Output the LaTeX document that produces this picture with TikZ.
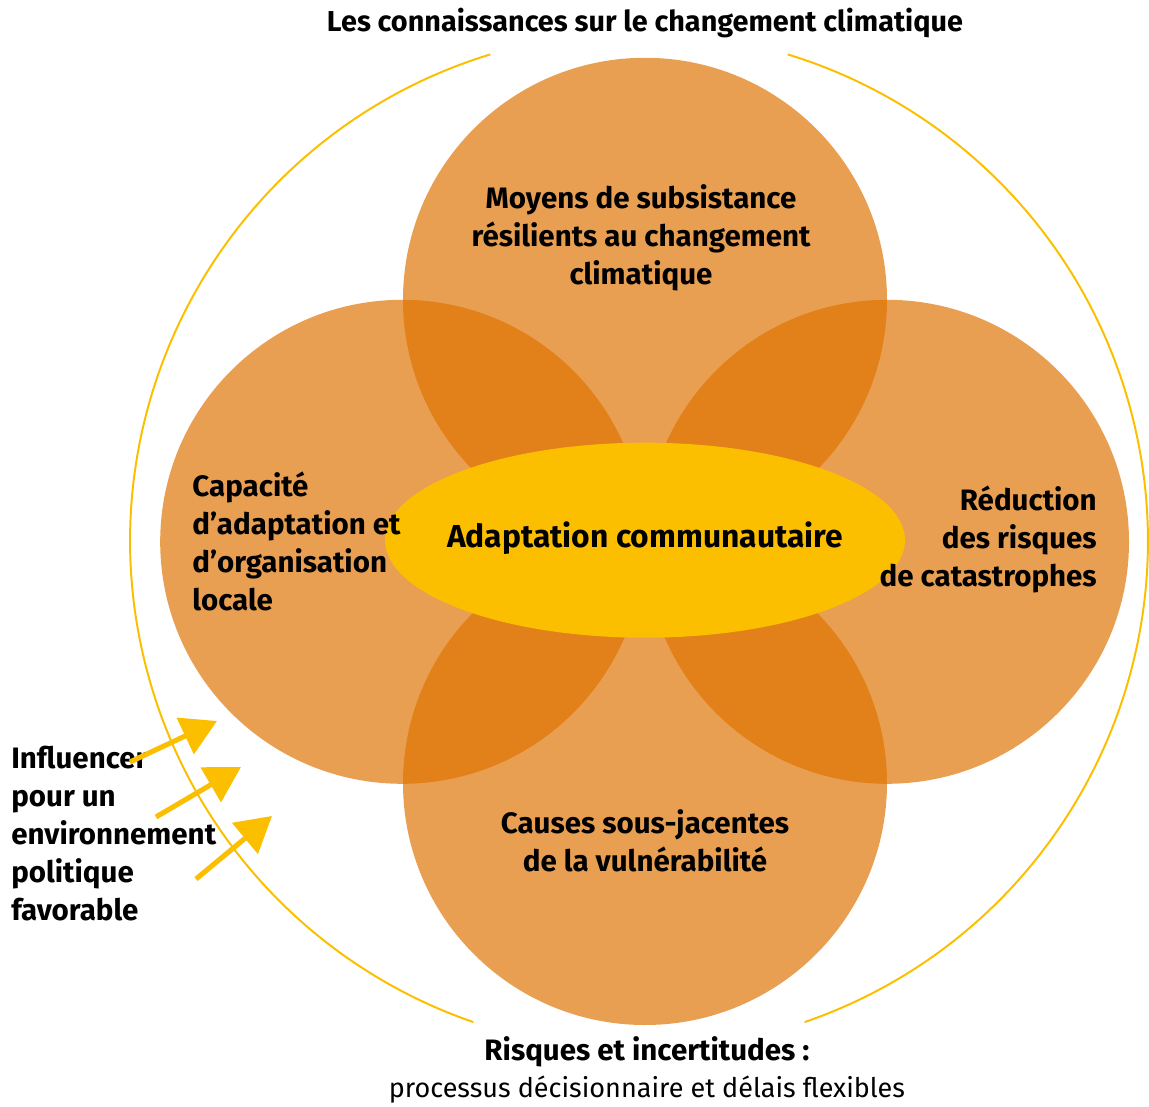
\documentclass[tikz,border=0pt]{standalone}
\usepackage{fontspec}
\setmainfont{Fira Sans}
\usetikzlibrary{calc, shapes.geometric, arrows.meta}

\definecolor{petalorange}{RGB}{223,114,0}
\definecolor{coreyellow}{RGB}{251,191,0}

\begin{document}
\begin{tikzpicture}[font=\fontsize{21}{27}\selectfont\bfseries]
    \tikzstyle{petal} = [circle, minimum size=12.1cm, inner sep=0pt, fill=petalorange, fill opacity=.68]
    \tikzstyle{core} = [ellipse, minimum width=13cm, minimum height=4.875cm, inner sep=0pt, fill=coreyellow]
    \tikzstyle{push} = [line width=3.6pt, coreyellow, -{Triangle[length=25pt, width=28pt]}]

    \useasboundingbox (-16.125, 13.525) rectangle (12.6, -14.125);

    % Outer ring --------------------------------------
    \coordinate (centre) at (0, 0);
    \coordinate (ring) at (-.15, 0);
    \draw[coreyellow, line width=1.4pt] ($(ring) + (107:12.72)$) arc (107:251:12.72);
    \draw[coreyellow, line width=1.4pt] ($(ring) + (-71:12.72)$) arc (-71:73:12.72);

    % Petals -------------------------------------------
    \node (moyens) at ($(centre) + (0, 6.03)$) [petal] {};
    \node (capacite) at ($(centre) + (-6.07, -.02)$) [petal] {};
    \node (reduction) at ($(centre) + (6.05, -.02)$) [petal] {};
    \node (causes) at ($(centre) + (0, -6.05)$) [petal] {};

    \node (adaptation) at ($(centre) + (0, .02)$) [core] {};
    \node (adaptation_txt) at ($(adaptation) + (0, .05)$) [font=\fontsize{22.6}{27}\selectfont\bfseries] {Adaptation communautaire};

    % Labels -------------------------------------------
    \node (moyens_txt) at ($(moyens) + (-.1, 1.55)$) [align=center] {Moyens de subsistance\\résilients au changement\\climatique};
    \node (capacite_txt) at ($(capacite) + (-5.25, .02)$) [anchor=west, align=left, inner sep=0pt] {Capacité\\d’adaptation et\\d’organisation\\locale};
    \node (reduction_txt) at ($(reduction) + (5.25, .07)$) [anchor=east, align=right, inner sep=0pt] {Réduction\\des risques\\de catastrophes};
    \node (causes_txt) at ($(causes) + (0, -1.45)$) [align=center] {Causes sous-jacentes\\de la vulnérabilité};

    \node (knowledge) at (0, 12.95) [font=\fontsize{20.5}{27}\selectfont\bfseries] {Les connaissances sur le changement climatique};
    \node (risks) at (.05, -12.77) {Risques et incertitudes :};
    \node (process) at ($(risks) + (0, -.95)$) [font=\fontsize{19.2}{27}\selectfont] {processus décisionnaire et délais flexibles};

    % Policy arrows ------------------------------------
    \node (policy) at (-15.85, -7.31) [anchor=west, align=left, inner sep=0pt] {Influencer\\pour un\\environnement\\politique\\favorable};

    \coordinate (p1) at (-12.875, -5.525);
    \coordinate (p2) at (-12.225, -6.9);
    \coordinate (p3) at (-11.225, -8.45);
    \coordinate (q1) at (-10.7, -4.5);
    \coordinate (q2) at (-10.1, -5.65);
    \coordinate (q3) at (-9.325, -6.875);

    \draw [push] (p1) -- (q1);
    \draw [push] (p2) -- (q2);
    \draw [push] (p3) -- (q3);
\end{tikzpicture}
\end{document}
